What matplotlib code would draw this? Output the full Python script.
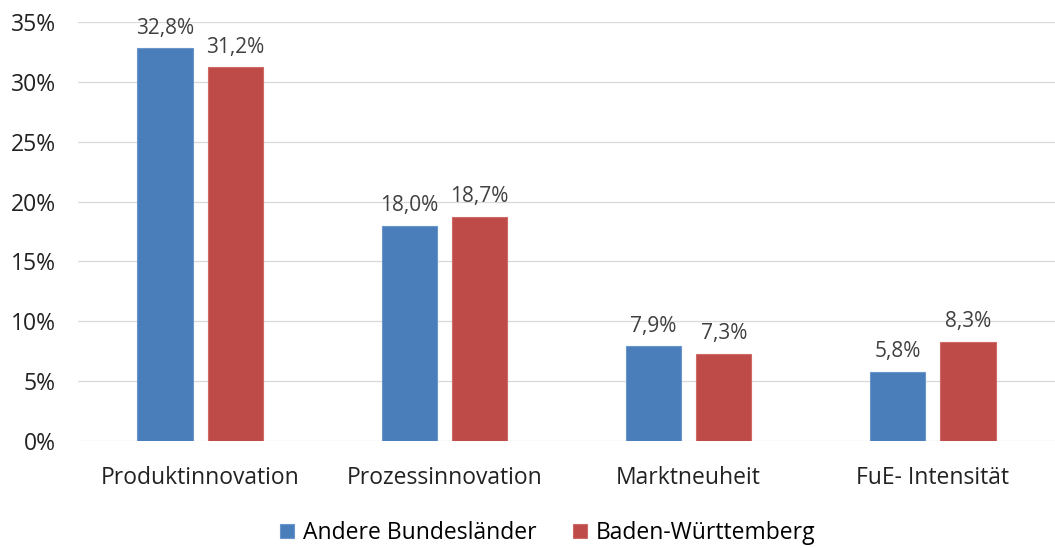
import numpy as np
import matplotlib.pyplot as plt
from matplotlib.ticker import FuncFormatter

# Data
categories = ["Produktinnovation", "Prozessinnovation", "Marktneuheit", "FuE- Intensität"]
andere = [32.8, 18.0, 7.9, 5.8]
bawue = [31.2, 18.7, 7.3, 8.3]
series_names = ["Andere Bundesländer", "Baden-Württemberg"]

blue = "#4A7EBB"
red = "#BE4B48"
text_col = "#404040"

plt.rcParams['font.family'] = ['Open Sans', 'DejaVu Sans']

fig = plt.figure(figsize=(10.55, 5.48), dpi=100)
ax = fig.add_axes([78 / 1055, 1 - 441 / 548, 1 - 78 / 1055, (441 - 22) / 548])

x = np.arange(len(categories))
w = 0.226
off = 0.144
b1 = ax.bar(x - off, andere, w, color=blue, edgecolor="#6A96CC", linewidth=0.8,
            label=series_names[0], zorder=3)
b2 = ax.bar(x + off, bawue, w, color=red, edgecolor="#D06A67", linewidth=0.8,
            label=series_names[1], zorder=3)

for bars, vals in ((b1, andere), (b2, bawue)):
    for bar, v in zip(bars, vals):
        ax.annotate(f"{v:.1f}%".replace(".", ","),
                    (bar.get_x() + bar.get_width() / 2, v),
                    xytext=(0, 7), textcoords="offset points",
                    ha="center", va="bottom", fontsize=15, color=text_col)

ax.set_xlim(-0.5, len(categories) - 0.5)
ax.set_ylim(0, 35)
ax.set_yticks(np.arange(0, 36, 5))
ax.yaxis.set_major_formatter(FuncFormatter(lambda v, p: f"{v:.0f}%"))
ax.set_xticks(x)
ax.set_xticklabels(categories)
ax.tick_params(axis="both", length=0, labelsize=16.5)
ax.tick_params(axis="x", pad=18)
ax.tick_params(axis="y", pad=16)
for lbl in ax.get_yticklabels() + ax.get_xticklabels():
    lbl.set_color("#222222")

ax.grid(axis="y", color="#D9D9D9", linewidth=0.9, zorder=0)
for s in ax.spines.values():
    s.set_visible(False)

fig.legend(handles=[b1, b2], labels=series_names, loc="center",
           bbox_to_anchor=(548 / 1055, 1 - 533 / 548), ncol=2, frameon=False,
           fontsize=16.5, handlelength=0.6, handleheight=0.6, handletextpad=0.4,
           columnspacing=1.6)

fig.savefig("out.png", dpi=100)
